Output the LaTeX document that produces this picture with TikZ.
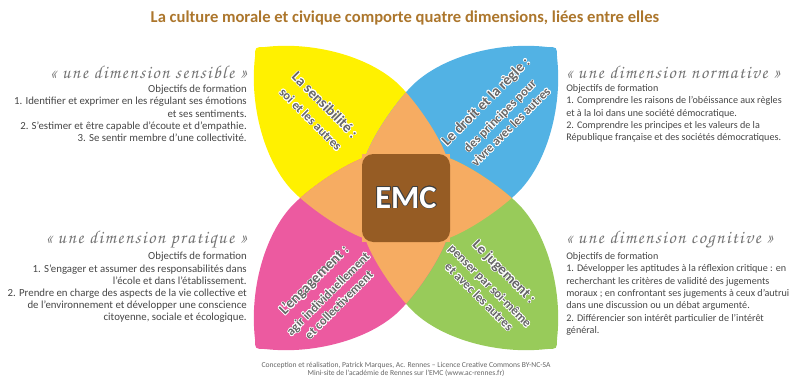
\documentclass[tikz,border=0pt]{standalone}
\usepackage{fontspec}
\setmainfont{Carlito}
\newfontfamily\handfont[LetterSpace=8]{texgyrechorus-mediumitalic.otf}
\usepackage{tikz}
\usetikzlibrary{positioning}
\usepackage{contour}
\contourlength{0.45pt}

\definecolor{yellowleaf}{RGB}{255,241,0}
\definecolor{blueleaf}{RGB}{82,178,228}
\definecolor{pinkleaf}{RGB}{236,90,160}
\definecolor{greenleaf}{RGB}{152,203,90}
\definecolor{overlap}{RGB}{246,172,98}
\definecolor{centre}{RGB}{150,92,36}
\definecolor{titlecol}{RGB}{172,118,44}
\definecolor{textgray}{RGB}{70,70,70}

\newcommand{\leaf}{(-3.775,3.525) .. controls (-3.775,3.775) .. (-3.525,3.775)
  .. controls (-2.25,3.925) and (-0.75,3.5) .. (-0.05,2.7)
  .. controls (0.4,2.2) and (0.85,1.5) .. (1.02,1.02)
  -- (1.1,-1.1) -- (-1.02,-1.02)
  .. controls (-1.5,-0.85) and (-2.2,-0.4) .. (-2.7,0.05)
  .. controls (-3.5,0.75) and (-3.925,2.25) .. (-3.775,3.525) -- cycle}

\tikzset{
  leafat/.style={shift={(10.15,-4.95)},rotate=#1},
  petal/.style={align=center, text=black!60, inner sep=0, font=\fontsize{9}{11}\selectfont\bfseries},
  dimension/.style={inner sep=0, text=black!55, font=\handfont\fontsize{13}{14}\selectfont},
  goals/.style={inner sep=0, text=textgray, font=\fontsize{7.7}{8.7}\selectfont},
  goalsright/.style={goals, font=\fontsize{7.2}{8.8}\selectfont}
}

\begin{document}
\begin{tikzpicture}
\useasboundingbox (0,0) rectangle (20,-9.7);

\fill[yellowleaf, leafat=0] \leaf;
\fill[blueleaf, leafat=-90] \leaf;
\fill[greenleaf, leafat=180] \leaf;
\fill[pinkleaf, leafat=90] \leaf;
\foreach \a/\b in {0/-90, -90/180, 180/90, 90/0, 0/180, -90/90}{
  \begin{scope}
    \clip[leafat=\a] \leaf;
    \fill[overlap, leafat=\b] \leaf;
  \end{scope}
}

\node[fill=centre, rounded corners=8pt, minimum size=2.2cm, inner sep=0,
  font=\fontsize{23}{23}\selectfont\bfseries, text=white] (emc) at (10.15,-4.95) {\contour{black!75}{EMC}};

\node[font=\fontsize{11.8}{13}\selectfont\bfseries, text=titlecol] (title) at (10.125,-0.45)
  {La culture morale et civique comporte quatre dimensions, liées entre elles};

\node[petal, rotate=-45] (sensibilite) at (7.95,-2.8)
  {\contour{white}{\fontsize{10.5}{10}\selectfont La sensibilité :}\\[3pt]\contour{white}{soi et les autres}};
\node[petal, rotate=45] (droit) at (12.45,-2.85)
  {\contour{white}{\fontsize{10.5}{10}\selectfont Le droit et la règle :}\\[3pt]\contour{white}{des principes pour}\\\contour{white}{vivre avec les autres}};
\node[petal, rotate=45] (engagement) at (8.15,-7.3)
  {\contour{white}{\fontsize{10.5}{10}\selectfont L'engagement :}\\[3pt]\contour{white}{agir individuellement}\\\contour{white}{et collectivement}};
\node[petal, rotate=-45] (jugement) at (12.3,-7.1)
  {\contour{white}{\fontsize{10.5}{10}\selectfont Le jugement :}\\[3pt]\contour{white}{penser par soi-même}\\\contour{white}{et avec les autres}};

\node[dimension, anchor=east] (sensible) at (6.175,-1.8) {« une dimension sensible »};
\node[goals, align=right, anchor=north east] (sensgoals) at (6.175,-2.12)
  {Objectifs de formation\\
   1. Identifier et exprimer en les régulant ses émotions\\
   et ses sentiments.\\
   2. S'estimer et être capable d'écoute et d'empathie.\\
   3. Se sentir membre d'une collectivité.};

\node[dimension, anchor=west] (normative) at (14.15,-1.8) {« une dimension normative »};
\node[goalsright, align=left, anchor=north west] (normgoals) at (14.15,-2.1)
  {Objectifs de formation\\
   1. Comprendre les raisons de l'obéissance aux règles\\
   et à la loi dans une société démocratique.\\
   2. Comprendre les principes et les valeurs de la\\
   République française et des sociétés démocratiques.};

\node[dimension, anchor=west] (cognitive) at (14.15,-6.0) {« une dimension cognitive »};
\node[goalsright, align=left, anchor=north west] (cogngoals) at (14.15,-6.3)
  {Objectifs de formation\\
   1. Développer les aptitudes à la réflexion critique : en\\
   recherchant les critères de validité des jugements\\
   moraux ; en confrontant ses jugements à ceux d'autrui\\
   dans une discussion ou un débat argumenté.\\
   2. Différencier son intérêt particulier de l'intérêt\\
   général.};

\node[dimension, anchor=east] (pratique) at (6.175,-6.0) {« une dimension pratique »};
\node[goals, align=right, anchor=north east] (pratgoals) at (6.175,-6.3)
  {Objectifs de formation\\
   1. S'engager et assumer des responsabilités dans\\
   l'école et dans l'établissement.\\
   2. Prendre en charge des aspects de la vie collective et\\
   de l'environnement et développer une conscience\\
   citoyenne, sociale et écologique.};

\node[align=center, text=black!60, font=\fontsize{5.4}{6}\selectfont] (footer) at (10.15,-9.24)
  {Conception et réalisation, Patrick Marques, Ac. Rennes -- Licence Creative Commons BY-NC-SA\\
   Mini-site de l'académie de Rennes sur l'EMC (www.ac-rennes.fr)};
\end{tikzpicture}
\end{document}
